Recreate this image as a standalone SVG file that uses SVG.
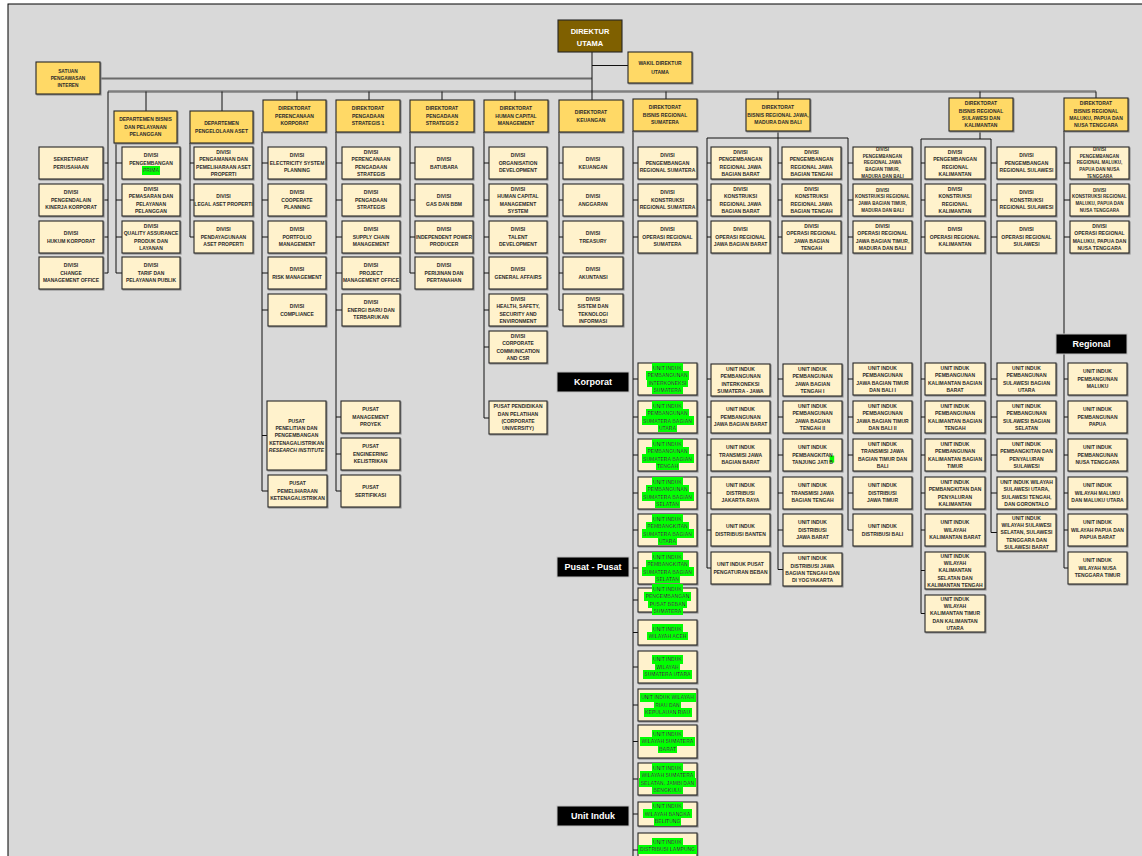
<svg xmlns="http://www.w3.org/2000/svg" width="1142" height="856" viewBox="0 0 1142 856">
<style>
.h{fill:#FFD966;stroke:#262626;stroke-width:1.1;filter:drop-shadow(1px 1px 0 #8c8c8c)}
.d{fill:#FFF2CC;stroke:#262626;stroke-width:1.1;filter:drop-shadow(1px 1px 0 #8c8c8c)}
.t{font-family:"Liberation Sans",Arial,sans-serif;font-size:5px;font-weight:bold;fill:#2b2b2b;text-anchor:middle}
.s{font-size:4.5px}
.sp{font-size:4.8px}
.tw{font-family:"Liberation Sans",Arial,sans-serif;font-size:7.5px;font-weight:bold;fill:#fff;text-anchor:middle}
.lb{fill:#000;stroke:#BFBFBF;stroke-width:1}
.lt{font-family:"Liberation Sans",Arial,sans-serif;font-size:9px;font-weight:bold;fill:#fff;text-anchor:middle}
.c{stroke:#111;stroke-width:1;fill:none}
.gr{stroke:#7F7F7F;stroke-width:2.5;fill:none}
.gr2{stroke:#6b6b6b;stroke-width:1.8;fill:none}
</style>
<defs>
<filter id="hl" x="-0.02" y="-0.14" width="1.04" height="1.3"><feFlood flood-color="#00FF00"/><feComposite in="SourceGraphic"/></filter>
</defs>
<rect x="0" y="0" width="1142" height="856" fill="#fff"/>
<rect x="8" y="4" width="1140" height="860" fill="#D9D9D9" stroke="#000" stroke-width="1"/>

<g id="connectors">
<path class="gr2" d="M100,78.5H592"/>
<path class="gr" d="M108,91.5H1096"/>
<path class="c" d="M592,52V100M592,65.5H628"/>
<path class="c" d="M108,91.5V273M146,91.5V111M222,91.5V111M297,91.5V100M369,91.5V100M442,91.5V100M515,91.5V100M666,91.5V99M778,91.5V99M980,91.5V98M1096,91.5V98"/>
<path class="c" d="M103,163H108M103,200H108M103,237H108M103,273H108"/>
<path class="c" d="M116,143V273M116,163H122M116,200H122M116,237H122M116,273H122"/>
<path class="c" d="M190,143V237M190,163H194M190,200H194M190,237H194"/>
<path class="c" d="M262,132V491M262,163H268M262,200H268M262,237H268M262,273H268M262,310H268M262,435.5H267M262,491H268"/>
<path class="c" d="M336,132V491M336,163H342M336,200H342M336,237H342M336,273H342M336,310H342M336,417H341M336,454H341M336,491H341"/>
<path class="c" d="M410,132V273M410,163H415M410,200H415M410,237H415M410,273H415"/>
<path class="c" d="M484,132V418M484,163H489M484,200H489M484,237H489M484,273H489M484,310H489M484,347H489M484,418H489"/>
<path class="c" d="M559,132V310M559,163H563M559,200H563M559,237H563M559,273H563M559,310H563"/>
<path class="c" d="M633,131V856M633,163H638M633,200H638M633,237H638M633,379H638M633,417H638M633,455H638M633,493H638M633,530H638M633,568H638M633,600H638M633,632.5H638M633,667H638M633,705H638M633,741.5H638M633,779H638M633,814H638M633,850H638"/>
<path class="c" d="M778,131V569.5M707,138H848M707,138V568M848,138V530"/>
<path class="c" d="M707,163H711M707,200H711M707,237H711M707,379H711M707,417H711M707,455H711M707,493H711M707,530H711M707,568H711"/>
<path class="c" d="M778,163H782M778,200H782M778,237H782M778,379H783M778,417H783M778,455H783M778,493H783M778,530H783M778,569.5H783"/>
<path class="c" d="M848,163H853M848,200H853M848,237H853M848,379H853M848,417H853M848,455H853M848,493H853M848,530H853"/>
<path class="c" d="M980,131V139M921,139H991M921,139V613.5M991,139V532.5"/>
<path class="c" d="M921,163H925M921,200H925M921,237H925M921,379H925M921,417H925M921,455H925M921,493H925M921,530H925M921,570.5H925M921,613.5H925"/>
<path class="c" d="M991,163H997M991,200H997M991,237H997M991,379H997M991,417H997M991,455H997M991,493H997M991,532.5H997"/>
<path class="gr2" d="M1064,131V568"/>
<path class="c" d="M1064,163H1070M1064,200H1070M1064,237H1070M1064,379H1068M1064,417H1068M1064,455H1068M1064,493H1068M1064,530H1068M1064,568H1068"/>
</g>

<g id="direktur-utama"><rect x="558" y="20" width="64" height="32" fill="#7F6000" stroke="#262626" stroke-width="1.1"/><text class="tw" x="590" y="33.5">DIREKTUR</text><text class="tw" x="590" y="45.5">UTAMA</text></g>
<g id="wakil-direktur"><rect class="h" x="628" y="52" width="64" height="31"/><text class="t" x="660" y="64.5"><tspan x="660">WAKIL DIREKTUR</tspan><tspan x="660" dy="9.5">UTAMA</tspan></text></g>
<g id="satuan-pengawasan"><rect class="h" x="36" y="62" width="64" height="32"/><text class="t sp" x="68" y="72.5"><tspan x="68">SATUAN</tspan><tspan x="68" dy="7.4">PENGAWASAN</tspan><tspan x="68" dy="7.4">INTEREN</tspan></text></g>

<g id="sekretariat"><rect class="d" x="39" y="147" width="64" height="32"/><text class="t" x="71" y="161.1"><tspan x="71">SEKRETARIAT</tspan><tspan x="71" dy="7.4">PERUSAHAAN</tspan></text></g>
<g id="div-pengendalian"><rect class="d" x="39" y="184" width="64" height="32"/><text class="t" x="71" y="194.4"><tspan x="71">DIVISI</tspan><tspan x="71" dy="7.4">PENGENDALAIN</tspan><tspan x="71" dy="7.4">KINERJA KORPORAT</tspan></text></g>
<g id="div-hukum"><rect class="d" x="39" y="221" width="64" height="32"/><text class="t" x="71" y="235.1"><tspan x="71">DIVISI</tspan><tspan x="71" dy="7.4">HUKUM KORPORAT</tspan></text></g>
<g id="div-change"><rect class="d" x="39" y="257" width="64" height="32"/><text class="t" x="71" y="267.4"><tspan x="71">DIVISI</tspan><tspan x="71" dy="7.4">CHANGE</tspan><tspan x="71" dy="7.4">MANAGEMENT OFFICE</tspan></text></g>

<g id="dep-bisnis"><rect class="h" x="114" y="111" width="63" height="32"/><text class="t" x="145.5" y="121.4"><tspan x="145.5">DEPARTEMEN BISNIS</tspan><tspan x="145.5" dy="7.4">DAN PELAYANAN</tspan><tspan x="145.5" dy="7.4">PELANGGAN</tspan></text></g>
<g id="div-prima"><rect class="d" x="122" y="147" width="58" height="32"/><text class="t" x="151" y="157.4"><tspan x="151">DIVISI</tspan><tspan x="151" dy="7.4">PENGEMBANGAN</tspan></text><text class="t" filter="url(#hl)" x="151" y="172.2">PRIMA</text></g>
<g id="div-pemasaran"><rect class="d" x="122" y="184" width="58" height="32"/><text class="t" x="151" y="190.7"><tspan x="151">DIVISI</tspan><tspan x="151" dy="7.4">PEMASARAN DAN</tspan><tspan x="151" dy="7.4">PELAYANAN</tspan><tspan x="151" dy="7.4">PELANGGAN</tspan></text></g>
<g id="div-qa"><rect class="d" x="122" y="221" width="58" height="32"/><text class="t" x="151" y="227.7"><tspan x="151">DIVISI</tspan><tspan x="151" dy="7.4">QUALITY ASSURANCE</tspan><tspan x="151" dy="7.4">PRODUK DAN</tspan><tspan x="151" dy="7.4">LAYANAN</tspan></text></g>
<g id="div-tarif"><rect class="d" x="122" y="257" width="58" height="32"/><text class="t" x="151" y="267.4"><tspan x="151">DIVISI</tspan><tspan x="151" dy="7.4">TARIF DAN</tspan><tspan x="151" dy="7.4">PELAYANAN PUBLIK</tspan></text></g>

<g id="dep-aset"><rect class="h" x="190" y="111" width="63" height="32"/><text class="t" x="221.5" y="125.1"><tspan x="221.5">DEPARTEMEN</tspan><tspan x="221.5" dy="7.4">PENGELOLAAN ASET</tspan></text></g>
<g id="div-pengamanan"><rect class="d" x="194" y="147" width="59" height="32"/><text class="t" x="223.5" y="153.7"><tspan x="223.5">DIVISI</tspan><tspan x="223.5" dy="7.4">PENGAMANAN DAN</tspan><tspan x="223.5" dy="7.4">PEMELIHARAAN ASET</tspan><tspan x="223.5" dy="7.4">PROPERTI</tspan></text></g>
<g id="div-legal"><rect class="d" x="194" y="184" width="59" height="32"/><text class="t" x="223.5" y="198.1"><tspan x="223.5">DIVISI</tspan><tspan x="223.5" dy="7.4">LEGAL ASET PROPERTI</tspan></text></g>
<g id="div-pendayagunaan"><rect class="d" x="194" y="221" width="59" height="32"/><text class="t" x="223.5" y="231.4"><tspan x="223.5">DIVISI</tspan><tspan x="223.5" dy="7.4">PENDAYAGUNAAN</tspan><tspan x="223.5" dy="7.4">ASET PROPERTI</tspan></text></g>

<g id="dir-perencanaan"><rect class="h" x="263" y="100" width="63" height="32"/><text class="t" x="294.5" y="110.4"><tspan x="294.5">DIREKTORAT</tspan><tspan x="294.5" dy="7.4">PERENCANAAN</tspan><tspan x="294.5" dy="7.4">KORPORAT</tspan></text></g>
<g id="div-esp"><rect class="d" x="268" y="147" width="58" height="32"/><text class="t" x="297" y="157.4"><tspan x="297">DIVISI</tspan><tspan x="297" dy="7.4">ELECTRICITY SYSTEM</tspan><tspan x="297" dy="7.4">PLANNING</tspan></text></g>
<g id="div-cooperate"><rect class="d" x="268" y="184" width="58" height="32"/><text class="t" x="297" y="194.4"><tspan x="297">DIVISI</tspan><tspan x="297" dy="7.4">COOPERATE</tspan><tspan x="297" dy="7.4">PLANNING</tspan></text></g>
<g id="div-portfolio"><rect class="d" x="268" y="221" width="58" height="32"/><text class="t" x="297" y="231.4"><tspan x="297">DIVISI</tspan><tspan x="297" dy="7.4">PORTFOLIO</tspan><tspan x="297" dy="7.4">MANAGEMENT</tspan></text></g>
<g id="div-risk"><rect class="d" x="268" y="257" width="58" height="32"/><text class="t" x="297" y="271.1"><tspan x="297">DIVISI</tspan><tspan x="297" dy="7.4">RISK MANAGEMENT</tspan></text></g>
<g id="div-compliance"><rect class="d" x="268" y="294" width="58" height="32"/><text class="t" x="297" y="308.1"><tspan x="297">DIVISI</tspan><tspan x="297" dy="7.4">COMPLIANCE</tspan></text></g>
<g id="pusat-penelitian"><rect class="d" x="267" y="401" width="59" height="69"/><text class="t" x="296.5" y="422.5"><tspan x="296.5">PUSAT</tspan><tspan x="296.5" dy="7.4">PENELITIAN DAN</tspan><tspan x="296.5" dy="7.4">PENGEMBANGAN</tspan><tspan x="296.5" dy="7.4">KETENAGALISTRIKAN</tspan><tspan x="296.5" dy="7.4" font-style="italic">RESEARCH INSTITUTE</tspan></text></g>
<g id="pusat-pemeliharaan"><rect class="d" x="268" y="475" width="59" height="32"/><text class="t" x="297.5" y="485.4"><tspan x="297.5">PUSAT</tspan><tspan x="297.5" dy="7.4">PEMELIHARAAN</tspan><tspan x="297.5" dy="7.4">KETENAGALISTRIKAN</tspan></text></g>

<g id="dir-pengadaan1"><rect class="h" x="336" y="100" width="64" height="32"/><text class="t" x="368" y="110.4"><tspan x="368">DIREKTORAT</tspan><tspan x="368" dy="7.4">PENGADAAN</tspan><tspan x="368" dy="7.4">STRATEGIS 1</tspan></text></g>
<g id="div-perencanaan-pengadaan"><rect class="d" x="342" y="147" width="58" height="32"/><text class="t" x="371" y="153.7"><tspan x="371">DIVISI</tspan><tspan x="371" dy="7.4">PERENCANAAN</tspan><tspan x="371" dy="7.4">PENGADAAN</tspan><tspan x="371" dy="7.4">STRATEGIS</tspan></text></g>
<g id="div-pengadaan-strategis"><rect class="d" x="342" y="184" width="58" height="32"/><text class="t" x="371" y="194.4"><tspan x="371">DIVISI</tspan><tspan x="371" dy="7.4">PENGADAAN</tspan><tspan x="371" dy="7.4">STRATEGIS</tspan></text></g>
<g id="div-scm"><rect class="d" x="342" y="221" width="58" height="32"/><text class="t" x="371" y="231.4"><tspan x="371">DIVISI</tspan><tspan x="371" dy="7.4">SUPPLY CHAIN</tspan><tspan x="371" dy="7.4">MANAGEMENT</tspan></text></g>
<g id="div-pmo"><rect class="d" x="342" y="257" width="58" height="32"/><text class="t" x="371" y="267.4"><tspan x="371">DIVISI</tspan><tspan x="371" dy="7.4">PROJECT</tspan><tspan x="371" dy="7.4">MANAGEMENT OFFICE</tspan></text></g>
<g id="div-ebt"><rect class="d" x="342" y="294" width="58" height="32"/><text class="t" x="371" y="304.4"><tspan x="371">DIVISI</tspan><tspan x="371" dy="7.4">ENERGI BARU DAN</tspan><tspan x="371" dy="7.4">TERBARUKAN</tspan></text></g>
<g id="pusat-proyek"><rect class="d" x="341" y="401" width="59" height="32"/><text class="t" x="370.5" y="411.4"><tspan x="370.5">PUSAT</tspan><tspan x="370.5" dy="7.4">MANAGEMENT</tspan><tspan x="370.5" dy="7.4">PROYEK</tspan></text></g>
<g id="pusat-engineering"><rect class="d" x="341" y="438" width="59" height="32"/><text class="t" x="370.5" y="448.4"><tspan x="370.5">PUSAT</tspan><tspan x="370.5" dy="7.4">ENGINEERING</tspan><tspan x="370.5" dy="7.4">KELISTRIKAN</tspan></text></g>
<g id="pusat-sertifikasi"><rect class="d" x="341" y="475" width="59" height="32"/><text class="t" x="370.5" y="489.1"><tspan x="370.5">PUSAT</tspan><tspan x="370.5" dy="7.4">SERTIFIKASI</tspan></text></g>

<g id="dir-pengadaan2"><rect class="h" x="410" y="100" width="64" height="32"/><text class="t" x="442" y="110.4"><tspan x="442">DIREKTORAT</tspan><tspan x="442" dy="7.4">PENGADAAN</tspan><tspan x="442" dy="7.4">STRATEGIS 2</tspan></text></g>
<g id="div-batubara"><rect class="d" x="415" y="147" width="58" height="32"/><text class="t" x="444" y="161.1"><tspan x="444">DIVISI</tspan><tspan x="444" dy="7.4">BATUBARA</tspan></text></g>
<g id="div-gas"><rect class="d" x="415" y="184" width="58" height="32"/><text class="t" x="444" y="198.1"><tspan x="444">DIVISI</tspan><tspan x="444" dy="7.4">GAS DAN BBM</tspan></text></g>
<g id="div-ipp"><rect class="d" x="415" y="221" width="58" height="32"/><text class="t" x="444" y="231.4"><tspan x="444">DIVISI</tspan><tspan x="444" dy="7.4">INDEPENDENT POWER</tspan><tspan x="444" dy="7.4">PRODUCER</tspan></text></g>
<g id="div-perijinan"><rect class="d" x="415" y="257" width="58" height="32"/><text class="t" x="444" y="267.4"><tspan x="444">DIVISI</tspan><tspan x="444" dy="7.4">PERIJINAN DAN</tspan><tspan x="444" dy="7.4">PERTANAHAN</tspan></text></g>

<g id="dir-hcm"><rect class="h" x="484" y="100" width="64" height="32"/><text class="t" x="516" y="110.4"><tspan x="516">DIREKTORAT</tspan><tspan x="516" dy="7.4">HUMAN CAPITAL</tspan><tspan x="516" dy="7.4">MANAGEMENT</tspan></text></g>
<g id="div-od"><rect class="d" x="489" y="147" width="58" height="32"/><text class="t" x="518" y="157.4"><tspan x="518">DIVISI</tspan><tspan x="518" dy="7.4">ORGANISATION</tspan><tspan x="518" dy="7.4">DEVELOPMENT</tspan></text></g>
<g id="div-hcms"><rect class="d" x="489" y="184" width="58" height="32"/><text class="t" x="518" y="190.7"><tspan x="518">DIVISI</tspan><tspan x="518" dy="7.4">HUMAN CAPITAL</tspan><tspan x="518" dy="7.4">MANAGEMENT</tspan><tspan x="518" dy="7.4">SYSTEM</tspan></text></g>
<g id="div-talent"><rect class="d" x="489" y="221" width="58" height="32"/><text class="t" x="518" y="231.4"><tspan x="518">DIVISI</tspan><tspan x="518" dy="7.4">TALENT</tspan><tspan x="518" dy="7.4">DEVELOPMENT</tspan></text></g>
<g id="div-ga"><rect class="d" x="489" y="257" width="58" height="32"/><text class="t" x="518" y="271.1"><tspan x="518">DIVISI</tspan><tspan x="518" dy="7.4">GENERAL AFFAIRS</tspan></text></g>
<g id="div-hsse"><rect class="d" x="489" y="294" width="58" height="32"/><text class="t" x="518" y="300.7"><tspan x="518">DIVISI</tspan><tspan x="518" dy="7.4">HEALTH, SAFETY,</tspan><tspan x="518" dy="7.4">SECURITY AND</tspan><tspan x="518" dy="7.4">ENVIRONMENT</tspan></text></g>
<g id="div-corcom"><rect class="d" x="489" y="331" width="58" height="32"/><text class="t" x="518" y="337.7"><tspan x="518">DIVISI</tspan><tspan x="518" dy="7.4">CORPORATE</tspan><tspan x="518" dy="7.4">COMMUNICATION</tspan><tspan x="518" dy="7.4">AND CSR</tspan></text></g>
<g id="pusat-pendidikan"><rect class="d" x="489" y="401" width="58" height="33"/><text class="t" x="518" y="408.2"><tspan x="518">PUSAT PENDIDIKAN</tspan><tspan x="518" dy="7.4">DAN PELATIHAN</tspan><tspan x="518" dy="7.4">(CORPORATE</tspan><tspan x="518" dy="7.4">UNIVERSITY)</tspan></text></g>

<g id="dir-keuangan"><rect class="h" x="559" y="100" width="64" height="32"/><text class="t" x="591" y="114.1"><tspan x="591">DIREKTORAT</tspan><tspan x="591" dy="7.4">KEUANGAN</tspan></text></g>
<g id="div-keuangan"><rect class="d" x="563" y="147" width="60" height="32"/><text class="t" x="593" y="161.1"><tspan x="593">DIVISI</tspan><tspan x="593" dy="7.4">KEUANGAN</tspan></text></g>
<g id="div-anggaran"><rect class="d" x="563" y="184" width="60" height="32"/><text class="t" x="593" y="198.1"><tspan x="593">DIVISI</tspan><tspan x="593" dy="7.4">ANGGARAN</tspan></text></g>
<g id="div-treasury"><rect class="d" x="563" y="221" width="60" height="32"/><text class="t" x="593" y="235.1"><tspan x="593">DIVISI</tspan><tspan x="593" dy="7.4">TREASURY</tspan></text></g>
<g id="div-akuntansi"><rect class="d" x="563" y="257" width="60" height="32"/><text class="t" x="593" y="271.1"><tspan x="593">DIVISI</tspan><tspan x="593" dy="7.4">AKUNTANSI</tspan></text></g>
<g id="div-sti"><rect class="d" x="563" y="294" width="60" height="32"/><text class="t" x="593" y="300.7"><tspan x="593">DIVISI</tspan><tspan x="593" dy="7.4">SISTEM DAN</tspan><tspan x="593" dy="7.4">TEKNOLOGI</tspan><tspan x="593" dy="7.4">INFORMASI</tspan></text></g>

<g id="dir-sumatera"><rect class="h" x="633" y="99" width="64" height="32"/><text class="t" x="665" y="109.4"><tspan x="665">DIREKTORAT</tspan><tspan x="665" dy="7.4">BISNIS REGIONAL</tspan><tspan x="665" dy="7.4">SUMATERA</tspan></text></g>
<g id="div-peng-sumatera"><rect class="d" x="638" y="147" width="59" height="32"/><text class="t" x="667.5" y="157.4"><tspan x="667.5">DIVISI</tspan><tspan x="667.5" dy="7.4">PENGEMBANGAN</tspan><tspan x="667.5" dy="7.4">REGIONAL SUMATERA</tspan></text></g>
<g id="div-kons-sumatera"><rect class="d" x="638" y="184" width="59" height="32"/><text class="t" x="667.5" y="194.4"><tspan x="667.5">DIVISI</tspan><tspan x="667.5" dy="7.4">KONSTRUKSI</tspan><tspan x="667.5" dy="7.4">REGIONAL SUMATERA</tspan></text></g>
<g id="div-ops-sumatera"><rect class="d" x="638" y="221" width="59" height="32"/><text class="t" x="667.5" y="231.4"><tspan x="667.5">DIVISI</tspan><tspan x="667.5" dy="7.4">OPERASI REGIONAL</tspan><tspan x="667.5" dy="7.4">SUMATERA</tspan></text></g>

<g id="ui-interkoneksi-sumatera"><rect class="d" x="638" y="363" width="59" height="32"/><text class="t" filter="url(#hl)" x="667.5" y="369.7">UNIT INDUK</text><text class="t" filter="url(#hl)" x="667.5" y="377.1">PEMBANGUNAN</text><text class="t" filter="url(#hl)" x="667.5" y="384.5">INTERKONEKSI</text><text class="t" filter="url(#hl)" x="667.5" y="391.9">SUMATERA</text></g>
<g id="ui-pemb-sbu"><rect class="d" x="638" y="401" width="59" height="32"/><text class="t" filter="url(#hl)" x="667.5" y="407.7">UNIT INDUK</text><text class="t" filter="url(#hl)" x="667.5" y="415.1">PEMBANGUNAN</text><text class="t" filter="url(#hl)" x="667.5" y="422.5">SUMATERA BAGIAN</text><text class="t" filter="url(#hl)" x="667.5" y="429.9">UTARA</text></g>
<g id="ui-pemb-sbt"><rect class="d" x="638" y="439" width="59" height="32"/><text class="t" filter="url(#hl)" x="667.5" y="445.7">UNIT INDUK</text><text class="t" filter="url(#hl)" x="667.5" y="453.1">PEMBANGUNAN</text><text class="t" filter="url(#hl)" x="667.5" y="460.5">SUMATERA BAGIAN</text><text class="t" filter="url(#hl)" x="667.5" y="467.9">TENGAH</text></g>
<g id="ui-pemb-sbs"><rect class="d" x="638" y="477" width="59" height="32"/><text class="t" filter="url(#hl)" x="667.5" y="483.7">UNIT INDUK</text><text class="t" filter="url(#hl)" x="667.5" y="491.1">PEMBANGUNAN</text><text class="t" filter="url(#hl)" x="667.5" y="498.5">SUMATERA BAGIAN</text><text class="t" filter="url(#hl)" x="667.5" y="505.9">SELATAN</text></g>
<g id="ui-kit-sbu"><rect class="d" x="638" y="514" width="59" height="32"/><text class="t" filter="url(#hl)" x="667.5" y="520.7">UNIT INDUK</text><text class="t" filter="url(#hl)" x="667.5" y="528.1">PEMBANGKITAN</text><text class="t" filter="url(#hl)" x="667.5" y="535.5">SUMATERA BAGIAN</text><text class="t" filter="url(#hl)" x="667.5" y="542.9">UTARA</text></g>
<g id="ui-kit-sbs"><rect class="d" x="638" y="552" width="59" height="32"/><text class="t" filter="url(#hl)" x="667.5" y="558.7">UNIT INDUK</text><text class="t" filter="url(#hl)" x="667.5" y="566.1">PEMBANGKITAN</text><text class="t" filter="url(#hl)" x="667.5" y="573.5">SUMATERA BAGIAN</text><text class="t" filter="url(#hl)" x="667.5" y="580.9">SELATAN</text></g>
<g id="ui-pusat-beban-sumatera"><rect class="d" x="638" y="588" width="59" height="24"/><text class="t" filter="url(#hl)" x="667.5" y="590.7">UNIT INDUK</text><text class="t" filter="url(#hl)" x="667.5" y="598.1">PENGEMBANGAN</text><text class="t" filter="url(#hl)" x="667.5" y="605.5">PUSAT BEBAN</text><text class="t" filter="url(#hl)" x="667.5" y="612.9">SUMATERA</text></g>
<g id="ui-aceh"><rect class="d" x="638" y="620" width="59" height="25"/><text class="t" filter="url(#hl)" x="667.5" y="630.6">UNIT INDUK</text><text class="t" filter="url(#hl)" x="667.5" y="638">WILAYAH ACEH</text></g>
<g id="ui-sumut"><rect class="d" x="638" y="651" width="59" height="32"/><text class="t" filter="url(#hl)" x="667.5" y="661.4">UNIT INDUK</text><text class="t" filter="url(#hl)" x="667.5" y="668.8">WILAYAH</text><text class="t" filter="url(#hl)" x="667.5" y="676.2">SUMATERA UTARA</text></g>
<g id="ui-riau"><rect class="d" x="638" y="689" width="59" height="32"/><text class="t" filter="url(#hl)" x="667.5" y="699.4">UNIT INDUK WILAYAH</text><text class="t" filter="url(#hl)" x="667.5" y="706.8">RIAU DAN</text><text class="t" filter="url(#hl)" x="667.5" y="714.2">KEPULAUAN RIAU</text></g>
<g id="ui-sumbar"><rect class="d" x="638" y="725" width="59" height="33"/><text class="t" filter="url(#hl)" x="667.5" y="735.9">UNIT INDUK</text><text class="t" filter="url(#hl)" x="667.5" y="743.3">WILAYAH SUMATERA</text><text class="t" filter="url(#hl)" x="667.5" y="750.7">BARAT</text></g>
<g id="ui-sumsel"><rect class="d" x="638" y="763" width="59" height="32"/><text class="t" filter="url(#hl)" x="667.5" y="769.7">UNIT INDUK</text><text class="t" filter="url(#hl)" x="667.5" y="777.1">WILAYAH SUMATERA</text><text class="t" filter="url(#hl)" x="667.5" y="784.5">SELATAN, JAMBI DAN</text><text class="t" filter="url(#hl)" x="667.5" y="791.9">BENGKULU</text></g>
<g id="ui-babel"><rect class="d" x="638" y="802" width="59" height="24"/><text class="t" filter="url(#hl)" x="667.5" y="808.4">UNIT INDUK</text><text class="t" filter="url(#hl)" x="667.5" y="815.8">WILAYAH BANGKA</text><text class="t" filter="url(#hl)" x="667.5" y="823.2">BELITUNG</text></g>
<g id="ui-lampung"><rect class="d" x="638" y="833" width="59" height="40"/><text class="t" filter="url(#hl)" x="667.5" y="844">UNIT INDUK</text><text class="t" filter="url(#hl)" x="667.5" y="851.4">DISTRIBUSI LAMPUNG</text></g>

<g id="dir-jawa"><rect class="h" x="746" y="99" width="64" height="32"/><text class="t" x="778" y="109.4"><tspan x="778">DIREKTORAT</tspan><tspan x="778" dy="7.4">BISNIS REGIONAL JAWA,</tspan><tspan x="778" dy="7.4">MADURA DAN BALI</tspan></text></g>
<g id="div-peng-jbb"><rect class="d" x="711" y="147" width="59" height="32"/><text class="t" x="740.5" y="153.7"><tspan x="740.5">DIVISI</tspan><tspan x="740.5" dy="7.4">PENGEMBANGAN</tspan><tspan x="740.5" dy="7.4">REGIONAL JAWA</tspan><tspan x="740.5" dy="7.4">BAGIAN BARAT</tspan></text></g>
<g id="div-kons-jbb"><rect class="d" x="711" y="184" width="59" height="32"/><text class="t" x="740.5" y="190.7"><tspan x="740.5">DIVISI</tspan><tspan x="740.5" dy="7.4">KONSTRUKSI</tspan><tspan x="740.5" dy="7.4">REGIONAL JAWA</tspan><tspan x="740.5" dy="7.4">BAGIAN BARAT</tspan></text></g>
<g id="div-ops-jbb"><rect class="d" x="711" y="221" width="59" height="32"/><text class="t" x="740.5" y="231.4"><tspan x="740.5">DIVISI</tspan><tspan x="740.5" dy="7.4">OPERASI REGIONAL</tspan><tspan x="740.5" dy="7.4">JAWA BAGIAN BARAT</tspan></text></g>
<g id="ui-interkoneksi-sj"><rect class="d" x="711" y="364" width="59" height="32"/><text class="t" x="740.5" y="370.7"><tspan x="740.5">UNIT INDUK</tspan><tspan x="740.5" dy="7.4">PEMBANGUNAN</tspan><tspan x="740.5" dy="7.4">INTERKONEKSI</tspan><tspan x="740.5" dy="7.4">SUMATERA - JAWA</tspan></text></g>
<g id="ui-pemb-jbb"><rect class="d" x="711" y="401" width="59" height="32"/><text class="t" x="740.5" y="411.4"><tspan x="740.5">UNIT INDUK</tspan><tspan x="740.5" dy="7.4">PEMBANGUNAN</tspan><tspan x="740.5" dy="7.4">JAWA BAGIAN BARAT</tspan></text></g>
<g id="ui-trans-jbb"><rect class="d" x="711" y="439" width="59" height="32"/><text class="t" x="740.5" y="449.4"><tspan x="740.5">UNIT INDUK</tspan><tspan x="740.5" dy="7.4">TRANSMISI JAWA</tspan><tspan x="740.5" dy="7.4">BAGIAN BARAT</tspan></text></g>
<g id="ui-dist-jakarta"><rect class="d" x="711" y="477" width="59" height="32"/><text class="t" x="740.5" y="487.4"><tspan x="740.5">UNIT INDUK</tspan><tspan x="740.5" dy="7.4">DISTRIBUSI</tspan><tspan x="740.5" dy="7.4">JAKARTA RAYA</tspan></text></g>
<g id="ui-dist-banten"><rect class="d" x="711" y="514" width="59" height="32"/><text class="t" x="740.5" y="528.1"><tspan x="740.5">UNIT INDUK</tspan><tspan x="740.5" dy="7.4">DISTRIBUSI BANTEN</tspan></text></g>
<g id="ui-p2b"><rect class="d" x="711" y="552" width="59" height="32"/><text class="t" x="740.5" y="566.1"><tspan x="740.5">UNIT INDUK PUSAT</tspan><tspan x="740.5" dy="7.4">PENGATURAN BEBAN</tspan></text></g>

<g id="div-peng-jbt"><rect class="d" x="782" y="147" width="59" height="32"/><text class="t" x="811.5" y="153.7"><tspan x="811.5">DIVISI</tspan><tspan x="811.5" dy="7.4">PENGEMBANGAN</tspan><tspan x="811.5" dy="7.4">REGIONAL JAWA</tspan><tspan x="811.5" dy="7.4">BAGIAN TENGAH</tspan></text></g>
<g id="div-kons-jbt"><rect class="d" x="782" y="184" width="59" height="32"/><text class="t" x="811.5" y="190.7"><tspan x="811.5">DIVISI</tspan><tspan x="811.5" dy="7.4">KONSTRUKSI</tspan><tspan x="811.5" dy="7.4">REGIONAL JAWA</tspan><tspan x="811.5" dy="7.4">BAGIAN TENGAH</tspan></text></g>
<g id="div-ops-jbt"><rect class="d" x="782" y="221" width="59" height="32"/><text class="t" x="811.5" y="227.7"><tspan x="811.5">DIVISI</tspan><tspan x="811.5" dy="7.4">OPERASI REGIONAL</tspan><tspan x="811.5" dy="7.4">JAWA BAGIAN</tspan><tspan x="811.5" dy="7.4">TENGAH</tspan></text></g>
<g id="ui-pemb-jbt1"><rect class="d" x="783" y="364" width="59" height="32"/><text class="t" x="812.5" y="370.7"><tspan x="812.5">UNIT INDUK</tspan><tspan x="812.5" dy="7.4">PEMBANGUNAN</tspan><tspan x="812.5" dy="7.4">JAWA BAGIAN</tspan><tspan x="812.5" dy="7.4">TENGAH I</tspan></text></g>
<g id="ui-pemb-jbt2"><rect class="d" x="783" y="401" width="59" height="32"/><text class="t" x="812.5" y="407.7"><tspan x="812.5">UNIT INDUK</tspan><tspan x="812.5" dy="7.4">PEMBANGUNAN</tspan><tspan x="812.5" dy="7.4">JAWA BAGIAN</tspan><tspan x="812.5" dy="7.4">TENGAH II</tspan></text></g>
<g id="ui-kit-tjb"><rect class="d" x="783" y="439" width="59" height="32"/><rect x="829.6" y="455.6" width="4.6" height="7" fill="#00FF00"/><text class="t" x="812.5" y="449.4"><tspan x="812.5">UNIT INDUK</tspan><tspan x="812.5" dy="7.4">PEMBANGKITAN</tspan><tspan x="812.5" dy="7.4">TANJUNG JATI B</tspan></text></g>
<g id="ui-trans-jbt"><rect class="d" x="783" y="477" width="59" height="32"/><text class="t" x="812.5" y="487.4"><tspan x="812.5">UNIT INDUK</tspan><tspan x="812.5" dy="7.4">TRANSMISI JAWA</tspan><tspan x="812.5" dy="7.4">BAGIAN TENGAH</tspan></text></g>
<g id="ui-dist-jabar"><rect class="d" x="783" y="514" width="59" height="32"/><text class="t" x="812.5" y="524.4"><tspan x="812.5">UNIT INDUK</tspan><tspan x="812.5" dy="7.4">DISTRIBUSI</tspan><tspan x="812.5" dy="7.4">JAWA BARAT</tspan></text></g>
<g id="ui-dist-jateng"><rect class="d" x="783" y="553" width="59" height="33"/><text class="t" x="812.5" y="560.2"><tspan x="812.5">UNIT INDUK</tspan><tspan x="812.5" dy="7.4">DISTRIBUSI JAWA</tspan><tspan x="812.5" dy="7.4">BAGIAN TENGAH DAN</tspan><tspan x="812.5" dy="7.4">DI YOGYAKARTA</tspan></text></g>

<g id="div-peng-jbtmb"><rect class="d" x="853" y="147" width="59" height="32"/><text class="t s" x="882.5" y="151.2"><tspan x="882.5">DIVISI</tspan><tspan x="882.5" dy="6.6">PENGEMBANGAN</tspan><tspan x="882.5" dy="6.6">REGIONAL JAWA</tspan><tspan x="882.5" dy="6.6">BAGIAN TIMUR,</tspan><tspan x="882.5" dy="6.6">MADURA DAN BALI</tspan></text></g>
<g id="div-kons-jbtmb"><rect class="d" x="853" y="184" width="59" height="32"/><text class="t s" x="882.5" y="191.7"><tspan x="882.5">DIVISI</tspan><tspan x="882.5" dy="6.6">KONSTRUKSI REGIONAL</tspan><tspan x="882.5" dy="6.6">JAWA BAGIAN TIMUR,</tspan><tspan x="882.5" dy="6.6">MADURA DAN BALI</tspan></text></g>
<g id="div-ops-jbtmb"><rect class="d" x="853" y="221" width="59" height="32"/><text class="t" x="882.5" y="227.7"><tspan x="882.5">DIVISI</tspan><tspan x="882.5" dy="7.4">OPERASI REGIONAL</tspan><tspan x="882.5" dy="7.4">JAWA BAGIAN TIMUR,</tspan><tspan x="882.5" dy="7.4">MADURA DAN BALI</tspan></text></g>
<g id="ui-pemb-jbtb1"><rect class="d" x="853" y="363" width="59" height="32"/><text class="t" x="882.5" y="369.7"><tspan x="882.5">UNIT INDUK</tspan><tspan x="882.5" dy="7.4">PEMBANGUNAN</tspan><tspan x="882.5" dy="7.4">JAWA BAGIAN TIMUR</tspan><tspan x="882.5" dy="7.4">DAN BALI I</tspan></text></g>
<g id="ui-pemb-jbtb2"><rect class="d" x="853" y="401" width="59" height="32"/><text class="t" x="882.5" y="407.7"><tspan x="882.5">UNIT INDUK</tspan><tspan x="882.5" dy="7.4">PEMBANGUNAN</tspan><tspan x="882.5" dy="7.4">JAWA BAGIAN TIMUR</tspan><tspan x="882.5" dy="7.4">DAN BALI II</tspan></text></g>
<g id="ui-trans-jbtb"><rect class="d" x="853" y="439" width="59" height="32"/><text class="t" x="882.5" y="445.7"><tspan x="882.5">UNIT INDUK</tspan><tspan x="882.5" dy="7.4">TRANSMISI JAWA</tspan><tspan x="882.5" dy="7.4">BAGIAN TIMUR DAN</tspan><tspan x="882.5" dy="7.4">BALI</tspan></text></g>
<g id="ui-dist-jatim"><rect class="d" x="853" y="477" width="59" height="32"/><text class="t" x="882.5" y="487.4"><tspan x="882.5">UNIT INDUK</tspan><tspan x="882.5" dy="7.4">DISTRIBUSI</tspan><tspan x="882.5" dy="7.4">JAWA TIMUR</tspan></text></g>
<g id="ui-dist-bali"><rect class="d" x="853" y="514" width="59" height="32"/><text class="t" x="882.5" y="528.1"><tspan x="882.5">UNIT INDUK</tspan><tspan x="882.5" dy="7.4">DISTRIBUSI BALI</tspan></text></g>

<g id="dir-sulkal"><rect class="h" x="949" y="98" width="64" height="33"/><text class="t" x="981" y="105.2"><tspan x="981">DIREKTORAT</tspan><tspan x="981" dy="7.4">BISNIS REGIONAL</tspan><tspan x="981" dy="7.4">SULAWESI DAN</tspan><tspan x="981" dy="7.4">KALIMANTAN</tspan></text></g>
<g id="div-peng-kal"><rect class="d" x="925" y="147" width="60" height="32"/><text class="t" x="955" y="153.7"><tspan x="955">DIVISI</tspan><tspan x="955" dy="7.4">PENGEMBANGAN</tspan><tspan x="955" dy="7.4">REGIONAL</tspan><tspan x="955" dy="7.4">KALIMANTAN</tspan></text></g>
<g id="div-kons-kal"><rect class="d" x="925" y="184" width="60" height="32"/><text class="t" x="955" y="190.7"><tspan x="955">DIVISI</tspan><tspan x="955" dy="7.4">KONSTRUKSI</tspan><tspan x="955" dy="7.4">REGIONAL</tspan><tspan x="955" dy="7.4">KALIMANTAN</tspan></text></g>
<g id="div-ops-kal"><rect class="d" x="925" y="221" width="60" height="32"/><text class="t" x="955" y="231.4"><tspan x="955">DIVISI</tspan><tspan x="955" dy="7.4">OPERASI REGIONAL</tspan><tspan x="955" dy="7.4">KALIMANTAN</tspan></text></g>
<g id="ui-pemb-kbb"><rect class="d" x="925" y="363" width="60" height="32"/><text class="t" x="955" y="369.7"><tspan x="955">UNIT INDUK</tspan><tspan x="955" dy="7.4">PEMBANGUNAN</tspan><tspan x="955" dy="7.4">KALIMANTAN BAGIAN</tspan><tspan x="955" dy="7.4">BARAT</tspan></text></g>
<g id="ui-pemb-kbt"><rect class="d" x="925" y="401" width="60" height="32"/><text class="t" x="955" y="407.7"><tspan x="955">UNIT INDUK</tspan><tspan x="955" dy="7.4">PEMBANGUNAN</tspan><tspan x="955" dy="7.4">KALIMANTAN BAGIAN</tspan><tspan x="955" dy="7.4">TENGAH</tspan></text></g>
<g id="ui-pemb-kbtim"><rect class="d" x="925" y="439" width="60" height="32"/><text class="t" x="955" y="445.7"><tspan x="955">UNIT INDUK</tspan><tspan x="955" dy="7.4">PEMBANGUNAN</tspan><tspan x="955" dy="7.4">KALIMANTAN BAGIAN</tspan><tspan x="955" dy="7.4">TIMUR</tspan></text></g>
<g id="ui-kitlur-kal"><rect class="d" x="925" y="477" width="60" height="32"/><text class="t" x="955" y="483.7"><tspan x="955">UNIT INDUK</tspan><tspan x="955" dy="7.4">PEMBANGKITAN DAN</tspan><tspan x="955" dy="7.4">PENYALURAN</tspan><tspan x="955" dy="7.4">KALIMANTAN</tspan></text></g>
<g id="ui-kalbar"><rect class="d" x="925" y="514" width="60" height="32"/><text class="t" x="955" y="524.4"><tspan x="955">UNIT INDUK</tspan><tspan x="955" dy="7.4">WILAYAH</tspan><tspan x="955" dy="7.4">KALIMANTAN BARAT</tspan></text></g>
<g id="ui-kalselteng"><rect class="d" x="925" y="552" width="60" height="37"/><text class="t" x="955" y="557.7"><tspan x="955">UNIT INDUK</tspan><tspan x="955" dy="7.3">WILAYAH</tspan><tspan x="955" dy="7.3">KALIMANTAN</tspan><tspan x="955" dy="7.3">SELATAN DAN</tspan><tspan x="955" dy="7.3">KALIMANTAN TENGAH</tspan></text></g>
<g id="ui-kaltimra"><rect class="d" x="925" y="595" width="60" height="37"/><text class="t" x="955" y="600.7"><tspan x="955">UNIT INDUK</tspan><tspan x="955" dy="7.3">WILAYAH</tspan><tspan x="955" dy="7.3">KALIMANTAN TIMUR</tspan><tspan x="955" dy="7.3">DAN KALIMANTAN</tspan><tspan x="955" dy="7.3">UTARA</tspan></text></g>

<g id="div-peng-sul"><rect class="d" x="997" y="147" width="59" height="32"/><text class="t" x="1026.5" y="157.4"><tspan x="1026.5">DIVISI</tspan><tspan x="1026.5" dy="7.4">PENGEMBANGAN</tspan><tspan x="1026.5" dy="7.4">REGIONAL SULAWESI</tspan></text></g>
<g id="div-kons-sul"><rect class="d" x="997" y="184" width="59" height="32"/><text class="t" x="1026.5" y="194.4"><tspan x="1026.5">DIVISI</tspan><tspan x="1026.5" dy="7.4">KONSTRUKSI</tspan><tspan x="1026.5" dy="7.4">REGIONAL SULAWESI</tspan></text></g>
<g id="div-ops-sul"><rect class="d" x="997" y="221" width="59" height="32"/><text class="t" x="1026.5" y="231.4"><tspan x="1026.5">DIVISI</tspan><tspan x="1026.5" dy="7.4">OPERASI REGIONAL</tspan><tspan x="1026.5" dy="7.4">SULAWESI</tspan></text></g>
<g id="ui-pemb-sulbu"><rect class="d" x="997" y="363" width="59" height="32"/><text class="t" x="1026.5" y="369.7"><tspan x="1026.5">UNIT INDUK</tspan><tspan x="1026.5" dy="7.4">PEMBANGUNAN</tspan><tspan x="1026.5" dy="7.4">SULAWESI BAGIAN</tspan><tspan x="1026.5" dy="7.4">UTARA</tspan></text></g>
<g id="ui-pemb-sulbs"><rect class="d" x="997" y="401" width="59" height="32"/><text class="t" x="1026.5" y="407.7"><tspan x="1026.5">UNIT INDUK</tspan><tspan x="1026.5" dy="7.4">PEMBANGUNAN</tspan><tspan x="1026.5" dy="7.4">SULAWESI BAGIAN</tspan><tspan x="1026.5" dy="7.4">SELATAN</tspan></text></g>
<g id="ui-kitlur-sul"><rect class="d" x="997" y="439" width="59" height="32"/><text class="t" x="1026.5" y="445.7"><tspan x="1026.5">UNIT INDUK</tspan><tspan x="1026.5" dy="7.4">PEMBANGKITAN DAN</tspan><tspan x="1026.5" dy="7.4">PENYALURAN</tspan><tspan x="1026.5" dy="7.4">SULAWESI</tspan></text></g>
<g id="ui-suluttenggo"><rect class="d" x="997" y="477" width="59" height="32"/><text class="t" x="1026.5" y="483.7"><tspan x="1026.5">UNIT INDUK WILAYAH</tspan><tspan x="1026.5" dy="7.4">SULAWESI UTARA,</tspan><tspan x="1026.5" dy="7.4">SULAWESI TENGAH,</tspan><tspan x="1026.5" dy="7.4">DAN GORONTALO</tspan></text></g>
<g id="ui-sulselrabar"><rect class="d" x="997" y="514" width="59" height="37"/><text class="t" x="1026.5" y="519.7"><tspan x="1026.5">UNIT INDUK</tspan><tspan x="1026.5" dy="7.3">WILAYAH SULAWESI</tspan><tspan x="1026.5" dy="7.3">SELATAN, SULAWESI</tspan><tspan x="1026.5" dy="7.3">TENGGARA DAN</tspan><tspan x="1026.5" dy="7.3">SULAWESI BARAT</tspan></text></g>

<g id="dir-mpn"><rect class="h" x="1064" y="98" width="64" height="33"/><text class="t" x="1096" y="105.2"><tspan x="1096">DIREKTORAT</tspan><tspan x="1096" dy="7.4">BISNIS REGIONAL</tspan><tspan x="1096" dy="7.4">MALUKU, PAPUA DAN</tspan><tspan x="1096" dy="7.4">NUSA TENGGARA</tspan></text></g>
<g id="div-peng-mpn"><rect class="d" x="1070" y="147" width="59" height="32"/><text class="t s" x="1099.5" y="151.2"><tspan x="1099.5">DIVISI</tspan><tspan x="1099.5" dy="6.6">PENGEMBANGAN</tspan><tspan x="1099.5" dy="6.6">REGIONAL MALUKU,</tspan><tspan x="1099.5" dy="6.6">PAPUA DAN NUSA</tspan><tspan x="1099.5" dy="6.6">TENGGARA</tspan></text></g>
<g id="div-kons-mpn"><rect class="d" x="1070" y="184" width="59" height="32"/><text class="t s" x="1099.5" y="191.7"><tspan x="1099.5">DIVISI</tspan><tspan x="1099.5" dy="6.6">KONSTRUKSI REGIONAL</tspan><tspan x="1099.5" dy="6.6">MALUKU, PAPUA DAN</tspan><tspan x="1099.5" dy="6.6">NUSA TENGGARA</tspan></text></g>
<g id="div-ops-mpn"><rect class="d" x="1070" y="221" width="59" height="32"/><text class="t" x="1099.5" y="227.7"><tspan x="1099.5">DIVISI</tspan><tspan x="1099.5" dy="7.4">OPERASI REGIONAL</tspan><tspan x="1099.5" dy="7.4">MALUKU, PAPUA DAN</tspan><tspan x="1099.5" dy="7.4">NUSA TENGGARA</tspan></text></g>
<g id="ui-pemb-maluku"><rect class="d" x="1068" y="363" width="59" height="32"/><text class="t" x="1097.5" y="373.4"><tspan x="1097.5">UNIT INDUK</tspan><tspan x="1097.5" dy="7.4">PEMBANGUNAN</tspan><tspan x="1097.5" dy="7.4">MALUKU</tspan></text></g>
<g id="ui-pemb-papua"><rect class="d" x="1068" y="401" width="59" height="32"/><text class="t" x="1097.5" y="411.4"><tspan x="1097.5">UNIT INDUK</tspan><tspan x="1097.5" dy="7.4">PEMBANGUNAN</tspan><tspan x="1097.5" dy="7.4">PAPUA</tspan></text></g>
<g id="ui-pemb-nusra"><rect class="d" x="1068" y="439" width="59" height="32"/><text class="t" x="1097.5" y="449.4"><tspan x="1097.5">UNIT INDUK</tspan><tspan x="1097.5" dy="7.4">PEMBANGUNAN</tspan><tspan x="1097.5" dy="7.4">NUSA TENGGARA</tspan></text></g>
<g id="ui-maluku"><rect class="d" x="1068" y="477" width="59" height="32"/><text class="t" x="1097.5" y="487.4"><tspan x="1097.5">UNIT INDUK</tspan><tspan x="1097.5" dy="7.4">WILAYAH MALUKU</tspan><tspan x="1097.5" dy="7.4">DAN MALUKU UTARA</tspan></text></g>
<g id="ui-papua"><rect class="d" x="1068" y="514" width="59" height="32"/><text class="t" x="1097.5" y="524.4"><tspan x="1097.5">UNIT INDUK</tspan><tspan x="1097.5" dy="7.4">WILAYAH PAPUA DAN</tspan><tspan x="1097.5" dy="7.4">PAPUA BARAT</tspan></text></g>
<g id="ui-ntt"><rect class="d" x="1068" y="552" width="59" height="32"/><text class="t" x="1097.5" y="562.4"><tspan x="1097.5">UNIT INDUK</tspan><tspan x="1097.5" dy="7.4">WILAYAH NUSA</tspan><tspan x="1097.5" dy="7.4">TENGGARA TIMUR</tspan></text></g>

<g id="label-korporat"><rect class="lb" x="557" y="372" width="72" height="20"/><text class="lt" x="593" y="385.2">Korporat</text></g>
<g id="label-pusat"><rect class="lb" x="557" y="557" width="72" height="20"/><text class="lt" x="593" y="570.2">Pusat - Pusat</text></g>
<g id="label-unit-induk"><rect class="lb" x="557" y="806" width="72" height="20"/><text class="lt" x="593" y="819.2">Unit Induk</text></g>
<g id="label-regional"><rect class="lb" x="1056" y="334" width="71" height="20"/><text class="lt" x="1091.5" y="347.2">Regional</text></g>
</svg>
